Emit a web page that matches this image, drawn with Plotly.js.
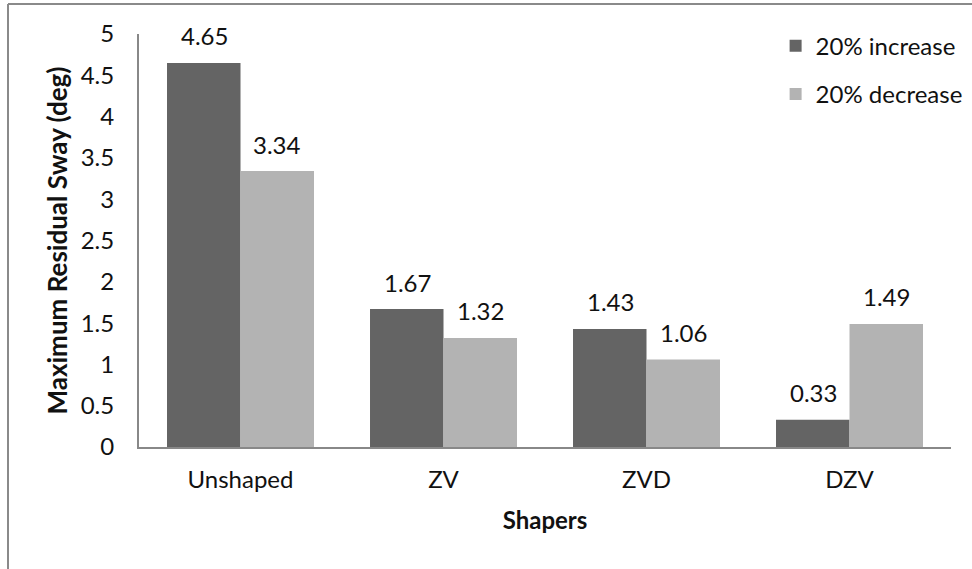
<!DOCTYPE html>
<html>
<head>
<meta charset="utf-8">
<script src="https://cdn.plot.ly/plotly-3.0.1.min.js"></script>
<style>
  html, body { margin: 0; padding: 0; background: #fff; }
  #chart { width: 972px; height: 569px; }
</style>
</head>
<body>
<div id="chart"></div>
<script>
const categories = ["Unshaped", "ZV", "ZVD", "DZV"];
const increaseValues = [4.65, 1.67, 1.43, 0.33];
const decreaseValues = [3.34, 1.32, 1.06, 1.49];
const seriesNames = ["20% increase", "20% decrease"];
const yTickVals = [0, 0.5, 1, 1.5, 2, 2.5, 3, 3.5, 4, 4.5, 5];
const yTickText = ["0", "0.5", "1", "1.5", "2", "2.5", "3", "3.5", "4", "4.5", "5"];

const FONT = "Lato, 'Open Sans', sans-serif";
const FS = 24;
const darkColor = "#646464";
const lightColor = "#b3b3b3";

const traces = [
  { type: "bar", name: seriesNames[0], x: categories, y: increaseValues,
    marker: { color: darkColor }, legendgroup: "a", hoverinfo: "none" },
  { type: "bar", name: seriesNames[1], x: categories, y: decreaseValues,
    marker: { color: lightColor }, legendgroup: "b", hoverinfo: "none" }
];

// value labels above bars
const annotations = [];
const groupOffset = 36.5;
[increaseValues, decreaseValues].forEach((vals, si) => {
  vals.forEach((v, i) => {
    annotations.push({
      x: categories[i], y: v, xref: "x", yref: "y",
      text: v.toFixed(2), showarrow: false,
      xshift: si === 0 ? -groupOffset : groupOffset,
      yshift: 27, yanchor: "middle",
      font: { family: FONT, size: FS, color: "#111" }
    });
  });
});

const layout = {
  width: 972, height: 569,
  margin: { l: 139, r: 21, t: 34, b: 122, pad: 0, autoexpand: false },
  paper_bgcolor: "#fff", plot_bgcolor: "#fff",
  barmode: "group", bargap: 0.276, bargroupgap: 0,
  font: { family: FONT, size: FS, color: "#111" },
  xaxis: {
    type: "category", automargin: false,
    showline: true, linecolor: "#888", linewidth: 2,
    ticks: "", showgrid: false, zeroline: false,
    tickfont: { family: FONT, size: FS, color: "#111" },
    ticklabelstandoff: 10,
    title: { text: "<b>Shapers</b>", font: { family: FONT, size: FS, color: "#111" }, standoff: 20 }
  },
  yaxis: {
    range: [0, 5], tickvals: yTickVals, ticktext: yTickText, automargin: false,
    showline: true, linecolor: "#888", linewidth: 2,
    ticks: "", showgrid: false, zeroline: false,
    tickfont: { family: FONT, size: FS, color: "#111" },
    ticklabelstandoff: 18,
    title: { text: "<b>Maximum Residual Sway (deg)</b>", font: { family: FONT, size: 26, color: "#111" }, standoff: 6 }
  },
  legend: {
    x: 0.784, y: 1.025, xanchor: "left", yanchor: "top",
    traceorder: "grouped", tracegroupgap: 14,
    font: { family: FONT, size: FS, color: "#111" },
    bgcolor: "rgba(0,0,0,0)"
  },
  annotations: annotations,
  shapes: [
    { type: "line", xref: "paper", yref: "paper",
      x0: (8 - 139) / 812, x1: (8 - 139) / 812, y0: (447 - 4) / 413, y1: (447 - 569) / 413,
      line: { color: "#8a8a8a", width: 2 } },
    { type: "line", xref: "paper", yref: "paper",
      x0: (8 - 139) / 812, x1: (972 - 139) / 812, y0: (447 - 4) / 413, y1: (447 - 4) / 413,
      line: { color: "#8a8a8a", width: 2 } }
  ],
  showlegend: true
};

Plotly.newPlot("chart", traces, layout, { displayModeBar: false, staticPlot: true });
</script>
</body>
</html>
